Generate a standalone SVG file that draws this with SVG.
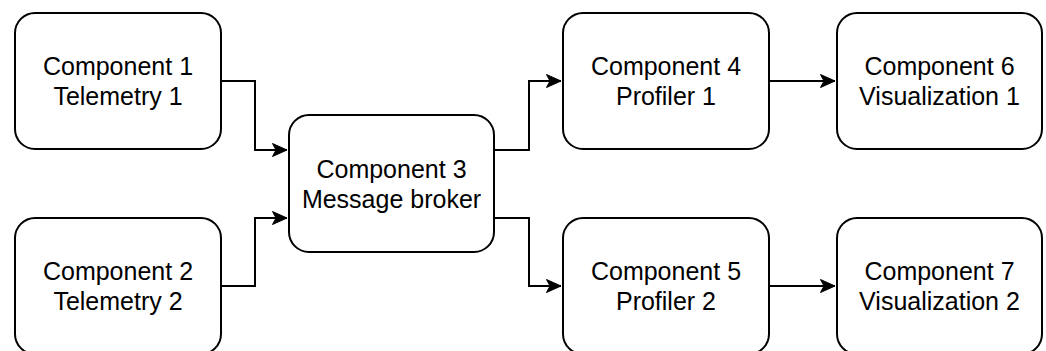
<svg xmlns="http://www.w3.org/2000/svg" width="1046" height="351" viewBox="0 0 1046 351">
  <style>
    .box { fill: #ffffff; stroke: #000000; stroke-width: 2; }
    .lbl { font-family: "Liberation Sans", Arial, sans-serif; font-size: 25px; fill: #000000; text-anchor: middle; }
    .edge { fill: none; stroke: #000000; stroke-width: 2; }
  </style>
  <defs>
    <marker id="arrow" markerUnits="userSpaceOnUse" markerWidth="16" markerHeight="14" viewBox="0 0 16 14" refX="15" refY="7" orient="auto">
      <path d="M0.5,0.5 L15,7 L0.5,13.5 L4,7 Z" fill="#000000" stroke="#000000" stroke-width="1"/>
    </marker>
  </defs>
  <rect width="1046" height="351" fill="#ffffff"/>

  <g id="connectors">
    <path class="edge" d="M221,81 H255 V150 H287" marker-end="url(#arrow)"/>
    <path class="edge" d="M221,286 H255 V218 H287" marker-end="url(#arrow)"/>
    <path class="edge" d="M494,150 H529 V81 H561" marker-end="url(#arrow)"/>
    <path class="edge" d="M494,218 H529 V286 H561" marker-end="url(#arrow)"/>
    <path class="edge" d="M769,81 H835" marker-end="url(#arrow)"/>
    <path class="edge" d="M769,286 H835" marker-end="url(#arrow)"/>
  </g>

  <g id="component1">
    <rect class="box" x="15" y="13" width="206" height="136" rx="20"/>
    <text class="lbl" x="118" y="75">Component 1</text>
    <text class="lbl" x="118" y="105">Telemetry 1</text>
  </g>
  <g id="component2">
    <rect class="box" x="15" y="218" width="206" height="136" rx="20"/>
    <text class="lbl" x="118" y="280">Component 2</text>
    <text class="lbl" x="118" y="310">Telemetry 2</text>
  </g>
  <g id="component3">
    <rect class="box" x="289" y="115" width="205" height="137" rx="20"/>
    <text class="lbl" x="391.5" y="177.5">Component 3</text>
    <text class="lbl" x="391.5" y="207.5">Message broker</text>
  </g>
  <g id="component4">
    <rect class="box" x="563" y="13" width="206" height="136" rx="20"/>
    <text class="lbl" x="666" y="75">Component 4</text>
    <text class="lbl" x="666" y="105">Profiler 1</text>
  </g>
  <g id="component5">
    <rect class="box" x="563" y="218" width="206" height="136" rx="20"/>
    <text class="lbl" x="666" y="280">Component 5</text>
    <text class="lbl" x="666" y="310">Profiler 2</text>
  </g>
  <g id="component6">
    <rect class="box" x="837" y="13" width="205" height="136" rx="20"/>
    <text class="lbl" x="939.5" y="75">Component 6</text>
    <text class="lbl" x="939.5" y="105">Visualization 1</text>
  </g>
  <g id="component7">
    <rect class="box" x="837" y="218" width="205" height="136" rx="20"/>
    <text class="lbl" x="939.5" y="280">Component 7</text>
    <text class="lbl" x="939.5" y="310">Visualization 2</text>
  </g>
</svg>
